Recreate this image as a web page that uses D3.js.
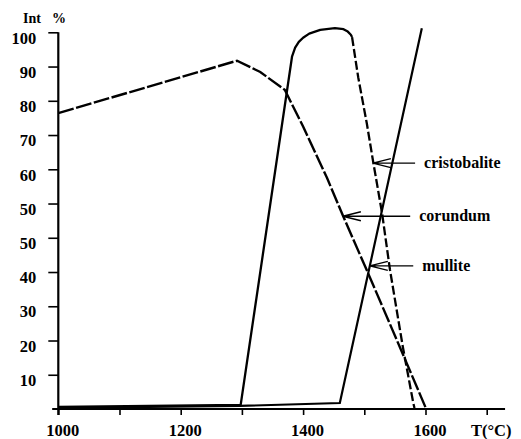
<!DOCTYPE html>
<html>
<head>
<meta charset="utf-8">
<script src="https://cdn.jsdelivr.net/npm/d3@7"></script>
<style>
  body { margin: 0; background: #fff; }
  svg text { font-family: "Liberation Serif", "DejaVu Serif", serif; font-weight: bold; fill: #000; }
</style>
</head>
<body>
<div id="chart"></div>
<script>
// temperatures (°C) and intensities
// y values are in axis positions: the printed scale repeats "50", so the top tick "100" sits at 110
var corundumT = [1000, 1292, 1330, 1370, 1400, 1439, 1465, 1509, 1558, 1600];
var corundumI = [86.4, 101.7, 98.4, 93.2, 82.5, 67.5, 56.5, 38.5, 18.1, 0.5];

var cristoRiseT = [1000, 1298, 1382, 1387, 1393, 1400, 1410, 1428, 1452, 1466, 1473, 1478, 1480];
var cristoRiseI = [0.6, 1.2, 103, 105.5, 107.2, 108.4, 109.6, 110.7, 111.2, 110.9, 110.2, 109.3, 108.6];
var cristoFallT = [1480, 1490, 1504, 1514, 1529, 1542, 1563, 1580, 1582];
var cristoFallI = [108.6, 96.9, 83.5, 72.7, 57.2, 40.6, 18.1, 1.8, 0.3];

var mulliteT = [1000, 1297, 1460, 1594];
var mulliteI = [0.3, 0.9, 1.75, 111.2];

var xTicks = [1000, 1100, 1200, 1300, 1400, 1500, 1600, 1700];
var xTickLabels = ["1000", "", "1200", "", "1400", "", "1600", "T(°C)"];
var yTicks = [10, 20, 30, 40, 50, 60, 70, 80, 90, 100, 110];
var yTickLabels = ["10", "20", "30", "40", "50", "50", "60", "70", "80", "90", "100"];

// annotation arrows: label, tip on the curve, tail
var labelNames = ["cristobalite", "corundum", "mullite"];
var labelTipT = [1514, 1465, 1509];
var labelTipI = [71.8, 56.3, 41.8];
var labelTailT = [1583, 1575, 1580];

(function() {
  var width = 521,
      height = 439;

  var svg = d3.select("#chart")
    .append("svg")
    .attr("width", width)
    .attr("height", height);

  var x = d3.scaleLinear().domain([1000, 1700]).range([58.3, 486.7]);
  var y = d3.scaleLinear().domain([0, 110]).range([409, 32.3]);

  var line = d3.line()
    .x(function(d) { return x(d[0]); })
    .y(function(d) { return y(d[1]); });

  function pairs(a, b) {
    return a.map(function(v, i) { return [v, b[i]]; });
  }

  // axes
  var yAxis = d3.axisLeft(y)
    .tickValues(yTicks)
    .tickFormat(function(d, i) { return yTickLabels[i]; })
    .tickSize(10)
    .tickSizeOuter(0)
    .tickPadding(12);

  var gy = svg.append("g")
    .attr("transform", "translate(" + x(1000) + ",0)")
    .call(yAxis);
  gy.select(".domain").remove();
  gy.selectAll(".tick line").attr("stroke", "#000").attr("stroke-width", 1.6);
  gy.selectAll(".tick text")
    .attr("dy", "0.65em")
    .style("font-size", "16.5px");

  var xAxis = d3.axisBottom(x)
    .tickValues(xTicks)
    .tickFormat(function(d, i) { return xTickLabels[i]; })
    .tickSize(6)
    .tickSizeOuter(0)
    .tickPadding(9);

  var gx = svg.append("g")
    .attr("transform", "translate(0," + y(0) + ")")
    .call(xAxis);
  gx.select(".domain").remove();
  gx.selectAll(".tick line").attr("stroke", "#000").attr("stroke-width", 1.6);
  gx.selectAll(".tick text")
    .attr("dx", 4)
    .style("font-size", "16.5px");

  // axis lines
  svg.append("line")
    .attr("x1", x(1000)).attr("x2", x(1000))
    .attr("y1", y(110)).attr("y2", y(0) + 6)
    .attr("stroke", "#000").attr("stroke-width", 2.2);
  svg.append("line")
    .attr("x1", x(990)).attr("x2", x(1730))
    .attr("y1", y(0)).attr("y2", y(0))
    .attr("stroke", "#000").attr("stroke-width", 2.2);

  svg.append("text")
    .attr("x", 23).attr("y", 23)
    .style("font-size", "14px")
    .text("Int");
  svg.append("text")
    .attr("x", 52).attr("y", 23)
    .style("font-size", "14px")
    .text("%");

  // curves
  svg.append("path")
    .datum(pairs(mulliteT, mulliteI))
    .attr("d", line)
    .attr("fill", "none")
    .attr("stroke", "#000")
    .attr("stroke-width", 2.2);

  svg.append("path")
    .datum(pairs(corundumT, corundumI))
    .attr("d", line)
    .attr("fill", "none")
    .attr("stroke", "#000")
    .attr("stroke-width", 2.4)
    .attr("stroke-dasharray", "16,2.5");

  svg.append("path")
    .datum(pairs(cristoRiseT, cristoRiseI))
    .attr("d", line)
    .attr("fill", "none")
    .attr("stroke", "#000")
    .attr("stroke-width", 2.3)
    .attr("stroke-linejoin", "round");

  svg.append("path")
    .datum(pairs(cristoFallT, cristoFallI))
    .attr("d", line)
    .attr("fill", "none")
    .attr("stroke", "#000")
    .attr("stroke-width", 2.3)
    .attr("stroke-dasharray", "9,3");

  // labels with arrows
  labelNames.forEach(function(name, i) {
    var tx = x(labelTipT[i]), ty = y(labelTipI[i]), ex = x(labelTailT[i]);
    svg.append("path")
      .attr("d", "M" + ex + "," + ty + "L" + tx + "," + ty +
                 "M" + (tx + 18) + "," + (ty - 4.5) + "L" + tx + "," + ty + "L" + (tx + 18) + "," + (ty + 4.5))
      .attr("fill", "none")
      .attr("stroke", "#000")
      .attr("stroke-width", 1.4);
    svg.append("text")
      .attr("x", ex + 9)
      .attr("y", ty)
      .attr("dy", "0.32em")
      .style("font-size", "16px")
      .text(name);
  });
})();
</script>
</body>
</html>
